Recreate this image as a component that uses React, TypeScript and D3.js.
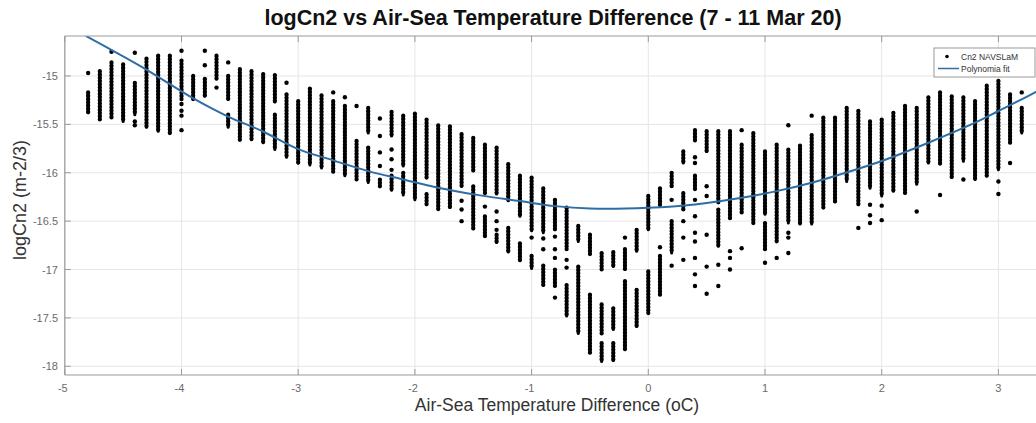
import React from "react";
import * as d3 from "d3";

// ---- data ----
const title = "logCn2 vs Air-Sea Temperature Difference (7 - 11 Mar 20)";
const xLabel = "Air-Sea Temperature Difference (oC)";
const yLabel = "logCn2 (m-2/3)";
const xTicks = [-5, -4, -3, -2, -1, 0, 1, 2, 3];
const yTicks = [-18, -17.5, -17, -16.5, -16, -15.5, -15];
const legendLabels = ["Cn2 NAVSLaM", "Polynomia fit"];

// dense stacks of samples per column: [x, yTop, yBottom]
const sampleRuns: [number, number, number][] = [
  [-4.8, -15.17, -15.38], [-4.7, -14.95, -15.45], [-4.6, -14.86, -15.43], [-4.5, -14.88, -15.47],
  [-4.4, -15.07, -15.4], [-4.3, -14.82, -15.53], [-4.2, -14.79, -15.57], [-4.1, -14.79, -15.59],
  [-4.0, -14.84, -15.24], [-3.9, -15.0, -15.24], [-3.8, -15.03, -15.21], [-3.7, -14.79, -15.03],
  [-3.6, -15.0, -15.24], [-3.6, -15.4, -15.53], [-3.5, -14.93, -15.66], [-3.4, -14.95, -15.66],
  [-3.3, -14.98, -15.69], [-3.2, -14.99, -15.27], [-3.2, -15.4, -15.76], [-3.1, -15.19, -15.84],
  [-3.0, -15.26, -15.9], [-2.9, -15.13, -15.92], [-2.8, -15.2, -15.95], [-2.7, -15.26, -15.99],
  [-2.6, -15.31, -16.03], [-2.5, -15.67, -16.07], [-2.4, -15.33, -15.59], [-2.4, -15.74, -16.1],
  [-2.3, -16.07, -16.14], [-2.2, -15.37, -15.62], [-2.2, -16.03, -16.18], [-2.1, -15.41, -15.93],
  [-2.1, -16.0, -16.23], [-2.0, -15.39, -16.28], [-1.9, -15.45, -16.05], [-1.9, -16.22, -16.33],
  [-1.8, -15.51, -16.38], [-1.7, -15.52, -16.36], [-1.6, -15.6, -16.14], [-1.5, -15.64, -15.98],
  [-1.5, -16.14, -16.58], [-1.4, -15.71, -16.21], [-1.4, -16.45, -16.66], [-1.3, -15.74, -16.22],
  [-1.3, -16.64, -16.72], [-1.2, -15.91, -16.29], [-1.2, -16.57, -16.82], [-1.1, -16.03, -16.45],
  [-1.1, -16.73, -16.91], [-1.0, -16.05, -16.6], [-1.0, -16.86, -16.99], [-0.9, -16.16, -16.62],
  [-0.9, -16.96, -17.16], [-0.8, -16.28, -16.59], [-0.8, -17.0, -17.17], [-0.7, -16.36, -16.79],
  [-0.7, -17.16, -17.48], [-0.6, -16.55, -16.71], [-0.6, -16.97, -17.66], [-0.5, -16.64, -16.84],
  [-0.5, -17.26, -17.86], [-0.4, -16.83, -17.0], [-0.4, -17.36, -17.66], [-0.4, -17.76, -17.95],
  [-0.3, -16.82, -16.97], [-0.3, -17.4, -17.62], [-0.3, -17.76, -17.94], [-0.2, -16.79, -17.0],
  [-0.2, -17.12, -17.83], [-0.1, -16.59, -16.81], [-0.1, -17.21, -17.59], [0.0, -16.24, -16.59],
  [0.0, -17.02, -17.45], [0.1, -16.16, -16.34], [0.1, -16.86, -17.26], [0.2, -16.0, -16.14],
  [0.2, -16.5, -16.83], [0.3, -15.78, -15.9], [0.3, -16.21, -16.38], [0.4, -15.56, -15.67],
  [0.4, -16.03, -16.17], [0.5, -15.57, -15.78], [0.6, -15.57, -16.31], [0.6, -16.38, -16.76],
  [0.7, -15.57, -16.47], [0.8, -15.71, -16.41], [0.9, -15.59, -16.52], [1.0, -15.78, -16.43],
  [1.0, -16.52, -16.79], [1.1, -15.71, -16.71], [1.2, -15.76, -16.52], [1.3, -15.72, -16.53],
  [1.4, -15.61, -16.53], [1.5, -15.43, -16.36], [1.6, -15.43, -16.3], [1.7, -15.33, -16.09],
  [1.8, -15.36, -16.33], [1.9, -15.47, -16.16], [2.0, -15.45, -16.24], [2.1, -15.38, -16.19],
  [2.2, -15.31, -16.21], [2.3, -15.33, -16.12], [2.4, -15.22, -15.9], [2.5, -15.17, -15.91],
  [2.6, -15.21, -16.05], [2.7, -15.22, -15.88], [2.8, -15.26, -16.07], [2.9, -15.1, -16.03],
  [3.0, -15.05, -15.97], [3.1, -15.19, -15.69], [3.2, -15.33, -15.59],
];

// isolated samples: [x, y]
const samplePoints: [number, number][] = [
  [-4.8, -14.97], [-4.6, -14.75], [-4.4, -14.76], [-4.4, -15.47], [-4.4, -15.51], [-4.0, -14.74],
  [-4.0, -15.29], [-4.0, -15.36], [-4.0, -15.41], [-4.0, -15.56], [-3.8, -14.74], [-3.8, -14.89],
  [-3.7, -15.12], [-3.6, -14.86], [-3.1, -15.07], [-2.7, -15.17], [-2.6, -15.22], [-2.5, -15.31],
  [-2.3, -15.44], [-2.3, -15.62], [-2.3, -15.79], [-2.3, -15.93], [-2.2, -15.76], [-2.2, -15.86],
  [-2.2, -15.97], [-1.6, -16.29], [-1.6, -16.38], [-1.6, -16.5], [-1.4, -16.35], [-1.3, -16.4],
  [-1.3, -16.5], [-1.3, -16.59], [-1.0, -16.67], [-0.9, -16.68], [-0.9, -16.79], [-0.8, -16.66],
  [-0.8, -16.79], [-0.8, -16.88], [-0.8, -17.29], [-0.7, -16.9], [-0.7, -16.98], [-0.2, -16.67],
  [0.1, -16.77], [0.2, -16.28], [0.2, -16.96], [0.3, -16.5], [0.3, -16.67], [0.3, -16.9],
  [0.4, -15.84], [0.4, -15.9], [0.4, -16.28], [0.4, -16.45], [0.4, -16.62], [0.4, -16.71],
  [0.4, -16.88], [0.4, -17.05], [0.4, -17.17], [0.5, -16.14], [0.5, -16.24], [0.5, -16.64],
  [0.5, -16.97], [0.5, -17.25], [0.6, -16.95], [0.6, -17.17], [0.7, -16.81], [0.7, -16.88],
  [0.7, -17.0], [0.8, -15.56], [0.8, -16.78], [1.0, -16.93], [1.1, -16.88], [1.2, -15.51],
  [1.2, -16.62], [1.2, -16.67], [1.2, -16.83], [1.4, -15.41], [1.8, -16.57], [1.9, -16.33],
  [1.9, -16.44], [1.9, -16.52], [2.0, -16.34], [2.0, -16.49], [2.3, -16.4], [2.5, -16.23],
  [2.7, -16.07], [3.0, -16.09], [3.0, -16.22], [3.1, -15.9], [3.2, -15.17],
];

// polynomial fit curve
const fitX = [-4.82, -4.33, -4.12, -3.91, -3.61, -3.31, -3.0, -2.7, -2.4, -2.1, -1.8, -1.44, -1.1,
  -0.8, -0.5, 0, 0.4, 0.8, 1.1, 1.4, 1.6, 2.0, 2.4, 2.8, 3.0, 3.31, 3.45];
const fitY = [-14.586, -14.914, -15.069, -15.224, -15.414, -15.569, -15.756, -15.872, -15.983, -16.069,
  -16.155, -16.234, -16.293, -16.345, -16.37, -16.362, -16.328, -16.259, -16.19, -16.103, -16.034,
  -15.879, -15.69, -15.483, -15.362, -15.172, -15.07];

const W = 1036;
const H = 423;
const FONT = "'Liberation Sans', Arial, Helvetica, sans-serif";

export default function App() {
  const left = 64.8;
  const top = 36;
  const bottom = 375;
  const right = 1045;
  const x = d3.scaleLinear().domain([-5, 3.4]).range([left, left + 8.4 * 116.7]);
  const y = d3.scaleLinear().domain([-18.09, -14.587]).range([bottom, top]);

  const fitPts = fitX.map((v, i) => [v, fitY[i]] as [number, number]);
  const line = d3
    .line<[number, number]>()
    .x((d) => x(d[0]))
    .y((d) => y(d[1]))
    .curve(d3.curveCatmullRom.alpha(0.5));

  const blue = "#2f6ea5";
  const gridColor = "#e6e6e6";
  const axisColor = "#9a9a9a";

  return (
    <svg
      width={W}
      height={H}
      style={{ position: "absolute", left: 0, top: 0, background: "#fff" }}
      fontFamily={FONT}
    >
      <defs>
        <clipPath id="plotClip">
          <rect x={left} y={top} width={right - left} height={bottom - top} />
        </clipPath>
      </defs>
      <rect x={0} y={0} width={W} height={H} fill="#fff" />
      {/* grid */}
      {xTicks.map((t) => (
        <line key={"gx" + t} x1={x(t)} x2={x(t)} y1={top} y2={bottom} stroke={gridColor} strokeWidth={1} />
      ))}
      {yTicks.map((t) => (
        <line key={"gy" + t} x1={left} x2={right} y1={y(t)} y2={y(t)} stroke={gridColor} strokeWidth={1} />
      ))}
      {/* data */}
      <g clipPath="url(#plotClip)">
        {sampleRuns.map((r, i) => (
          <line
            key={"r" + i}
            x1={x(r[0])}
            x2={x(r[0])}
            y1={y(r[1])}
            y2={y(r[2])}
            stroke="#000"
            strokeWidth={4.2}
            strokeLinecap="round"
            strokeDasharray="0.6 2.6"
          />
        ))}
        {sampleRuns.map((r, i) => (
          <line
            key={"rc" + i}
            x1={x(r[0])}
            x2={x(r[0])}
            y1={y(r[1])}
            y2={y(r[2])}
            stroke="#000"
            strokeWidth={3}
            strokeLinecap="round"
          />
        ))}
        {samplePoints.map((p, i) => (
          <circle key={"p" + i} cx={x(p[0])} cy={y(p[1])} r={2.2} fill="#000" />
        ))}
        <path d={line(fitPts) || ""} fill="none" stroke={blue} strokeWidth={2} />
      </g>
      {/* axes box */}
      <line x1={left} x2={left} y1={top} y2={bottom} stroke={axisColor} strokeWidth={1.2} />
      <line x1={left} x2={right} y1={bottom} y2={bottom} stroke={axisColor} strokeWidth={1.2} />
      <line x1={left} x2={right} y1={top} y2={top} stroke={axisColor} strokeWidth={1.2} />
      {/* ticks */}
      {xTicks.map((t) => (
        <g key={"tx" + t}>
          <line x1={x(t)} x2={x(t)} y1={bottom} y2={bottom - 6} stroke={axisColor} />
          <line x1={x(t)} x2={x(t)} y1={top} y2={top + 6} stroke={axisColor} />
          <text x={x(t) - (t < 0 ? 2 : 0)} y={392} textAnchor="middle" fontSize={11} fill="#6a6a6a">
            {t}
          </text>
        </g>
      ))}
      {yTicks.map((t) => (
        <g key={"ty" + t}>
          <line x1={left} x2={left + 6} y1={y(t)} y2={y(t)} stroke={axisColor} />
          <text x={58} y={y(t) + 4} textAnchor="end" fontSize={11} fill="#6a6a6a">
            {t}
          </text>
        </g>
      ))}
      {/* labels */}
      <text x={553} y={25} textAnchor="middle" fontSize={21.5} fontWeight="bold" fill="#111">
        {title}
      </text>
      <text x={557} y={411} textAnchor="middle" fontSize={17.5} fill="#333">
        {xLabel}
      </text>
      <text
        transform={`translate(26, 200) rotate(-90)`}
        textAnchor="middle"
        fontSize={18}
        fill="#333"
      >
        {yLabel}
      </text>
      {/* legend */}
      <g>
        <rect x={934} y={48} width={101} height={29} fill="#fff" stroke="#9a9a9a" strokeWidth={1} />
        <circle cx={947} cy={56.5} r={1.8} fill="#000" />
        <text x={961} y={59.5} fontSize={8.5} fill="#333">
          {legendLabels[0]}
        </text>
        <line x1={938} x2={959} y1={68.5} y2={68.5} stroke={blue} strokeWidth={1.5} />
        <text x={961} y={71.5} fontSize={8.5} fill="#333">
          {legendLabels[1]}
        </text>
      </g>
    </svg>
  );
}
